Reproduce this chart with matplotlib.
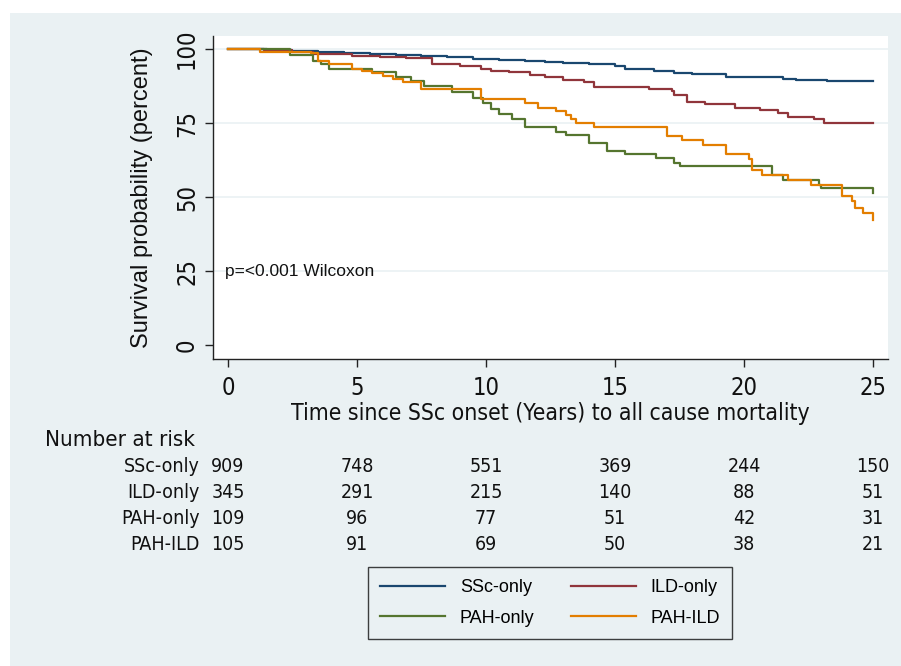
import numpy as np
import matplotlib
matplotlib.use('Agg')
import matplotlib.pyplot as plt
from matplotlib import font_manager
from matplotlib.font_manager import FontProperties
from matplotlib.transforms import blended_transform_factory
from matplotlib.patches import Rectangle

# Kaplan-Meier step curves (time in years, survival in percent)
ssc_t = [0, 1.5, 2.5, 3.5, 4.5, 5.5, 6.5, 7.5, 8.5, 9.5, 10.5, 11.5, 12.3, 13.0, 14.0, 15.0, 15.4, 16.5, 17.3, 18.0, 19.3, 21.5, 22.0, 23.2, 25]
ssc_s = [100, 99.7, 99.4, 99.1, 98.8, 98.4, 98.0, 97.6, 97.2, 96.8, 96.4, 96.0, 95.6, 95.2, 94.8, 94.3, 93.2, 92.6, 91.9, 91.5, 90.4, 90.0, 89.7, 89.2, 89.2]

ild_t = [0, 1.4, 2.5, 3.3, 4.8, 5.9, 6.9, 7.9, 9.0, 9.8, 10.2, 10.9, 11.7, 12.3, 13.0, 13.8, 14.2, 16.3, 17.2, 17.3, 17.8, 18.5, 19.65, 20.6, 21.3, 21.7, 22.7, 23.1, 25]
ild_s = [100, 99.6, 98.9, 98.3, 97.7, 97.3, 96.9, 94.9, 94.4, 93.4, 92.7, 92.1, 91.3, 90.4, 89.6, 88.7, 87.2, 86.4, 85.7, 84.4, 82.1, 81.4, 80.2, 79.4, 78.3, 77.2, 76.3, 74.9, 74.9]

pah_t = [0, 2.4, 3.3, 3.6, 3.9, 5.6, 6.5, 7.1, 7.6, 8.7, 9.5, 9.9, 10.2, 10.5, 11.0, 11.5, 12.7, 13.1, 14.0, 14.7, 15.4, 16.6, 17.3, 17.5, 21.1, 21.5, 22.9, 23.0, 25]
pah_s = [100, 98.0, 96.0, 94.9, 93.4, 92.1, 90.4, 89.3, 87.6, 85.5, 83.6, 81.9, 79.7, 78.0, 76.3, 73.5, 72.0, 70.8, 68.4, 65.5, 64.4, 63.3, 61.6, 60.5, 57.6, 55.9, 54.2, 53.1, 51.4]

pahild_t = [0, 1.24, 3.2, 3.5, 3.9, 4.8, 5.2, 5.6, 6.0, 6.4, 6.8, 7.5, 9.8, 11.5, 12.0, 12.7, 13.1, 13.3, 13.5, 14.2, 17.0, 17.6, 18.4, 19.3, 20.2, 20.3, 20.7, 21.7, 22.6, 23.8, 24.2, 24.3, 24.6, 25]
pahild_s = [100, 98.9, 98.5, 96.0, 94.9, 93.4, 92.7, 91.9, 91.0, 89.8, 88.7, 86.4, 83.1, 81.9, 80.2, 79.1, 77.6, 76.5, 75.1, 73.7, 70.6, 69.2, 67.5, 64.4, 62.7, 59.3, 57.6, 55.9, 54.0, 50.3, 48.6, 46.3, 44.6, 42.4]

groups = ['SSc-only', 'ILD-only', 'PAH-only', 'PAH-ILD']
risk_times = [0, 5, 10, 15, 20, 25]
risk_ssc = [909, 748, 551, 369, 244, 150]
risk_ild = [345, 291, 215, 140, 88, 51]
risk_pah = [109, 96, 77, 51, 42, 31]
risk_pahild = [105, 91, 69, 50, 38, 21]

colors = ['#1a476f', '#90353b', '#55752f', '#e37e00']
bg = '#eaf1f3'
txt = '#111111'

# look for a narrow sans font (Stata uses Arial Narrow-ish text for ticks and table)
fl = font_manager.fontManager.ttflist
names = {f.name for f in fl}
regular = 'Liberation Sans' if 'Liberation Sans' in names else 'DejaVu Sans'
narrow_file = None
for pref in ['Liberation Sans Narrow', 'Arial Narrow', 'DejaVu Sans']:
    for f in fl:
        if f.name == pref and f.style == 'normal' and f.weight in (400, 'normal') and \
                (pref != 'DejaVu Sans' or f.stretch == 'condensed'):
            narrow_file = f.fname
            break
    if narrow_file:
        break
if narrow_file is None:
    for f in fl:
        if ('Condensed' in f.fname or 'Narrow' in f.fname) and 'Bold' not in f.fname \
                and 'Italic' not in f.fname and 'Oblique' not in f.fname and 'Mono' not in f.fname \
                and 'Serif' not in f.fname:
            narrow_file = f.fname
            break

if narrow_file:
    def nfp(size):
        return FontProperties(fname=narrow_file, size=size)
    tick_size, lab_size, head_size, tab_size = 17, 16.5, 16, 14
else:
    def nfp(size):
        return FontProperties(family=regular, size=size)
    tick_size, lab_size, head_size, tab_size = 15, 15, 15, 13

W, H = 901, 666
fig = plt.figure(figsize=(W / 100, H / 100), dpi=100, facecolor='white')
fig.patches.append(Rectangle((10 / W, 0), 1 - 10 / W, 1 - 13 / H, transform=fig.transFigure,
                             facecolor=bg, edgecolor='none', zorder=-10))

ax = fig.add_axes([213 / W, 1 - 359 / H, 675 / W, 323 / H])
ax.set_facecolor('white')

curves = [(ssc_t, ssc_s), (ild_t, ild_s), (pah_t, pah_s), (pahild_t, pahild_s)]
handles = []
for (t, s), c, g in zip(curves, colors, groups):
    h, = ax.step(t, s, where='post', color=c, lw=1.6, label=g)
    handles.append(h)

ax.set_xlim(-0.58, 25.58)
ax.set_ylim(-4.7, 104.4)
ax.set_xticks(risk_times)
ax.set_yticks([0, 25, 50, 75, 100])
for yv in [25, 50, 75, 100]:
    ax.axhline(yv, color=bg, lw=1.2, zorder=0)

for sp in ['top', 'right']:
    ax.spines[sp].set_visible(False)
for sp in ['left', 'bottom']:
    ax.spines[sp].set_color('#222222')
    ax.spines[sp].set_linewidth(1.0)
ax.tick_params(axis='both', direction='out', length=6, width=1.0, color='#222222',
               labelcolor=txt)
ax.tick_params(axis='x', pad=6)
ax.tick_params(axis='y', pad=4)
for lab in ax.get_xticklabels() + ax.get_yticklabels():
    lab.set_fontproperties(nfp(tick_size))
for lab in ax.get_yticklabels():
    lab.set_rotation(90)
    lab.set_va('center')

ax.set_xlabel('Time since SSc onset (Years) to all cause mortality', fontproperties=nfp(lab_size),
              labelpad=2, color=txt)
ax.set_ylabel('Survival probability (percent)', fontsize=17, fontfamily=regular,
              labelpad=16, color=txt)

ax.text(-0.1, 25, 'p=<0.001 Wilcoxon', fontsize=12.5, fontfamily=regular,
        va='center', ha='left', color=txt)

# number at risk table
tr = blended_transform_factory(ax.transData, fig.transFigure)
fig.text(45 / W, 1 - 440 / H, 'Number at risk', fontproperties=nfp(head_size),
         va='center', ha='left', color=txt)
rows = [risk_ssc, risk_ild, risk_pah, risk_pahild]
row_y = [466, 492, 518, 544]
for g, vals, yp in zip(groups, rows, row_y):
    fig.text(200 / W, 1 - yp / H, g, fontproperties=nfp(tab_size),
             va='center', ha='right', color=txt)
    for t, v in zip(risk_times, vals):
        ax.text(t, 1 - yp / H, str(v), transform=tr, fontproperties=nfp(tab_size),
                va='center', ha='center', color=txt, clip_on=False)

# legend filled column-wise, so order gives rows SSc/ILD and PAH/PAH-ILD
order = [0, 2, 1, 3]
leg = fig.legend(handles=[handles[i] for i in order], labels=[groups[i] for i in order],
                 ncol=2, loc='center',
                 bbox_to_anchor=(550 / W, 1 - 603 / H), frameon=True, fancybox=False,
                 prop={'family': regular, 'size': 13}, handlelength=3.6,
                 handletextpad=0.8, columnspacing=2.0, labelspacing=0.75,
                 borderpad=0.7, borderaxespad=0)
leg.get_frame().set_edgecolor(txt)
leg.get_frame().set_facecolor(bg)
leg.get_frame().set_linewidth(1.0)
for line in leg.get_lines():
    line.set_linewidth(1.6)

fig.savefig('out.png', dpi=100, facecolor=fig.get_facecolor())
